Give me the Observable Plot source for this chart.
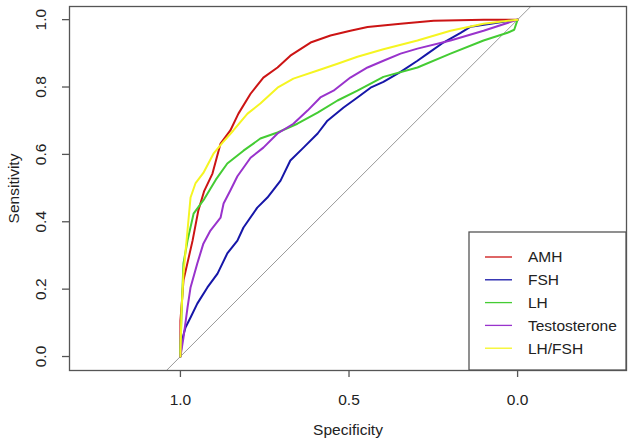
<!DOCTYPE html>
<html>
<head>
<meta charset="utf-8">
<script src="https://cdn.jsdelivr.net/npm/d3@7"></script>
<script src="https://cdn.jsdelivr.net/npm/@observablehq/plot@0.6"></script>
<style>
  html, body { margin: 0; padding: 0; background: #fff; }
  svg { font-family: "Liberation Sans", Arial, sans-serif; }
</style>
</head>
<body>
<div id="chart"></div>
<script>
// ---- data ----
const seriesNames = ["AMH", "FSH", "LH", "Testosterone", "LH/FSH"];
const seriesColors = ["#cc1414", "#1616a8", "#44cc33", "#9933cc", "#f5f522"];

const amhSpec = [1, 1, 0.995, 0.991, 0.964, 0.947, 0.93, 0.905, 0.881, 0.852, 0.828, 0.792, 0.754, 0.712, 0.674, 0.614, 0.555, 0.496, 0.445, 0.347, 0.249, 0.1, 0];
const amhSens = [0, 0.107, 0.17, 0.226, 0.344, 0.433, 0.49, 0.543, 0.632, 0.671, 0.721, 0.78, 0.828, 0.858, 0.893, 0.932, 0.953, 0.967, 0.978, 0.988, 0.997, 1, 1];

const fshSpec = [1, 0.995, 0.985, 0.97, 0.95, 0.92, 0.89, 0.861, 0.831, 0.813, 0.772, 0.742, 0.703, 0.674, 0.635, 0.593, 0.564, 0.516, 0.475, 0.436, 0.398, 0.347, 0.297, 0.267, 0.22, 0.169, 0.139, 0.08, 0];
const fshSens = [0, 0.05, 0.086, 0.116, 0.157, 0.205, 0.246, 0.306, 0.344, 0.383, 0.442, 0.472, 0.522, 0.582, 0.62, 0.662, 0.7, 0.739, 0.769, 0.798, 0.815, 0.845, 0.878, 0.899, 0.932, 0.961, 0.979, 0.988, 1];

const lhSpec = [1, 1, 0.995, 0.991, 0.979, 0.961, 0.929, 0.895, 0.861, 0.813, 0.763, 0.712, 0.653, 0.593, 0.534, 0.475, 0.398, 0.297, 0.199, 0.101, 0.03, 0.01, 0];
const lhSens = [0, 0.027, 0.175, 0.276, 0.344, 0.424, 0.468, 0.525, 0.573, 0.611, 0.647, 0.665, 0.691, 0.724, 0.76, 0.789, 0.83, 0.858, 0.899, 0.938, 0.961, 0.97, 1];

const testoSpec = [1, 0.991, 0.979, 0.97, 0.95, 0.932, 0.911, 0.881, 0.872, 0.852, 0.831, 0.792, 0.754, 0.712, 0.665, 0.623, 0.585, 0.546, 0.496, 0.445, 0.398, 0.347, 0.297, 0.199, 0.101, 0];
const testoSens = [0, 0.056, 0.145, 0.205, 0.276, 0.335, 0.374, 0.412, 0.454, 0.493, 0.535, 0.59, 0.62, 0.662, 0.691, 0.73, 0.769, 0.789, 0.828, 0.858, 0.878, 0.899, 0.914, 0.938, 0.967, 1];

const ratioSpec = [1, 0.997, 0.991, 0.979, 0.97, 0.955, 0.932, 0.902, 0.875, 0.843, 0.801, 0.763, 0.712, 0.665, 0.593, 0.534, 0.475, 0.398, 0.297, 0.199, 0.101, 0];
const ratioSens = [0, 0.128, 0.246, 0.374, 0.472, 0.515, 0.545, 0.602, 0.635, 0.671, 0.721, 0.751, 0.798, 0.825, 0.849, 0.869, 0.89, 0.912, 0.938, 0.967, 0.988, 1];

const xTicks = [1.0, 0.5, 0.0];
const yTicks = [0.0, 0.2, 0.4, 0.6, 0.8, 1.0];
const xTitle = "Specificity";
const yTitle = "Sensitivity";

// ---- build table ----
const specs = [amhSpec, fshSpec, lhSpec, testoSpec, ratioSpec];
const senss = [amhSens, fshSens, lhSens, testoSens, ratioSens];
const rows = [];
seriesNames.forEach((name, i) => {
  specs[i].forEach((s, j) => rows.push({series: name, spec: s, sens: senss[i][j]}));
});
const diag = [{spec: 1.1, sens: -0.1}, {spec: -0.1, sens: 1.1}];

const xDomain = [1.329, -0.323];
const yDomain = [-0.0415, 1.039];
const axisColor = "#555";
const fs = 15.5;

const chart = Plot.plot({
  width: 633,
  height: 442,
  marginLeft: 69,
  marginRight: 7,
  marginTop: 6,
  marginBottom: 72,
  x: {domain: xDomain, axis: null},
  y: {domain: yDomain, axis: null},
  color: {domain: seriesNames, range: seriesColors},
  style: {fontFamily: '"Liberation Sans", Arial, sans-serif', background: "#fff"},
  marks: [
    Plot.line(diag, {x: "spec", y: "sens", stroke: "#9a9a9a", strokeWidth: 1, clip: true}),
    ...seriesNames.map(name =>
      Plot.line(rows.filter(r => r.series === name), {x: "spec", y: "sens", stroke: "series", strokeWidth: 2, clip: true})
    ),
    Plot.frame({stroke: axisColor, strokeWidth: 1.3}),
    Plot.axisX(xTicks, {tickSize: 7, tickFormat: () => "", label: null, stroke: axisColor, strokeWidth: 1.3}),
    Plot.axisY(yTicks, {tickSize: 7, tickFormat: () => "", label: null, stroke: axisColor, strokeWidth: 1.3}),
    Plot.text(xTicks, {x: d => d, frameAnchor: "bottom", dy: 30, textAnchor: "middle", lineAnchor: "middle", text: d => d.toFixed(1), fontSize: fs, fill: "#222"}),
    Plot.text(yTicks, {y: d => d, frameAnchor: "left", dx: -28, rotate: -90, textAnchor: "middle", lineAnchor: "middle", text: d => d.toFixed(1), fontSize: fs, fill: "#222"}),
    Plot.text([xTitle], {frameAnchor: "bottom", dy: 60, textAnchor: "middle", lineAnchor: "middle", text: d => d, fontSize: fs, fill: "#222"}),
    Plot.text([yTitle], {frameAnchor: "left", dx: -55, rotate: -90, textAnchor: "middle", lineAnchor: "middle", text: d => d, fontSize: fs, fill: "#222"})
  ]
});

document.getElementById("chart").appendChild(chart);

// ---- legend (bottom-right, inside the plot box) ----
const svg = d3.select(chart);
const lg = svg.append("g").attr("transform", "translate(469,232)");
lg.append("rect").attr("width", 157).attr("height", 138)
  .attr("fill", "#fff").attr("stroke", axisColor).attr("stroke-width", 1.3);
seriesNames.forEach((name, i) => {
  const yy = 25 + i * 22.8;
  lg.append("line").attr("x1", 16).attr("x2", 43).attr("y1", yy).attr("y2", yy)
    .attr("stroke", seriesColors[i]).attr("stroke-width", 1.3);
  lg.append("text").attr("x", 59).attr("y", yy).attr("dy", "0.35em")
    .attr("text-anchor", "start")
    .attr("font-size", fs).attr("fill", "#222").text(name);
});
</script>
</body>
</html>
